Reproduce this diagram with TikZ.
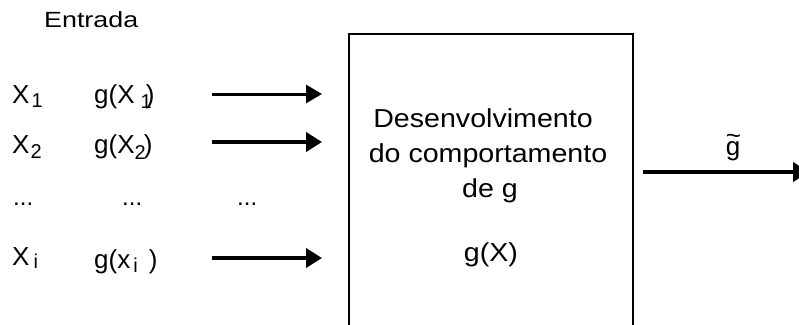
\documentclass[tikz,border=0pt]{standalone}
\usepackage{fontspec}
\setmainfont{Liberation Sans}
\newfontfamily\widefont{Liberation Sans}[FakeStretch=1.1]
\newfontfamily\headfont{Liberation Sans}[FakeStretch=1.22]
\usetikzlibrary{arrows.meta}

% lowered subscript: #1 = drop, #2 = text
\newcommand\lowsub[2]{\raisebox{-#1pt}{\fontsize{20}{20}\selectfont #2}}

\tikzset{
  txt/.style={inner sep=0pt, anchor=base west, font=\fontsize{26}{30}\selectfont},
  mid/.style={inner sep=0pt, anchor=base, font=\widefont\fontsize{26}{30}\selectfont},
  feed/.style={-{Triangle[length=16pt,width=18pt]}, line width=3pt},
  feedthick/.style={-{Triangle[length=16pt,width=19pt]}, line width=4pt},
  blockbox/.style={draw, line width=1.5pt, inner sep=0pt}
}

\begin{document}
\begin{tikzpicture}[x=1pt,y=-1pt]
\useasboundingbox (0,0) rectangle (799,324);
\clip (0,0) rectangle (799,324);

% heading
\node[txt, font=\headfont\fontsize{22}{26}\selectfont] (entrada) at (44,27) {Entrada};

% input column
\node[txt] (x1) at (12,103) {X\kern2pt\lowsub{4}{1}};
\node[txt] (gx1) at (94,103) {g(X\kern6pt\lowsub{5}{1}\kern-6pt)};
\node[txt] (x2) at (12,153) {X\kern1pt\lowsub{5}{2}};
\node[txt] (gx2) at (94,153) {g(X\lowsub{6}{2}\kern-2pt)};
\node[txt, font=\fontsize{24}{28}\selectfont] (d1) at (13,205) {...};
\node[txt, font=\fontsize{24}{28}\selectfont] (d2) at (122,205) {...};
\node[txt, font=\fontsize{24}{28}\selectfont] (d3) at (237,205) {...};
\node[txt] (xi) at (12,265) {X\kern4pt\lowsub{3}{i}};
\node[txt] (gxi) at (94,268) {g(x\kern3pt\lowsub{4}{i}\kern11pt)};

% processing block (runs past the lower edge)
\node[blockbox, minimum width=284pt, minimum height=330pt] (block) at (491,199) {};
\node[mid] (t1) at (483,127) {Desenvolvimento};
\node[mid] (t2) at (488,162) {do comportamento};
\node[mid] (t3) at (490,197) {de g};
\node[mid] (t4) at (491,261) {g(X)};

% connectors
\coordinate (s1) at (212,94);  \coordinate (e1) at (322,94);
\coordinate (s2) at (212,142); \coordinate (e2) at (322,142);
\coordinate (s4) at (212,258); \coordinate (e4) at (322,258);
\draw[feed] (s1) -- (e1);
\draw[feedthick] (s2) -- (e2);
\draw[feedthick] (s4) -- (e4);

\coordinate (oe) at (809,172);
\draw[feedthick] (block.east |- oe) ++(9,0) coordinate (os) -- (oe);
\node[mid, font=\fontsize{26}{30}\selectfont] (gt) at (733,155)
  {\rlap{\raisebox{11pt}{\textasciitilde}}g};
\end{tikzpicture}
\end{document}
